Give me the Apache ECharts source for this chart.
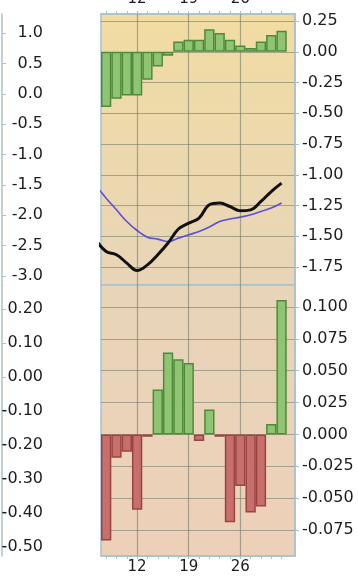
<!DOCTYPE html>
<html><head><meta charset="utf-8">
<script src="https://cdn.jsdelivr.net/npm/echarts@6/dist/echarts.min.js"></script>
<style>html,body{margin:0;padding:0;background:#fff}#c{width:358px;height:583px}</style>
</head><body><div id="c"></div>
<script>
// trading days (first one lies just left of the visible range)
const days = ['6','7','8','9','12','13','14','15','16','19','20','21','22','23','26','27','28','29','30'];
const dayLabels = ['12','19','26'];
// upper panel
const histValues = [null,-0.45,-0.382,-0.355,-0.355,-0.228,-0.119,-0.033,0.084,0.098,0.098,0.184,0.152,0.098,0.051,0.030,0.084,0.136,0.171];
const macdValues = [-1.53,-1.623,-1.65,-1.718,-1.778,-1.732,-1.65,-1.555,-1.441,-1.393,-1.352,-1.244,-1.230,-1.258,-1.293,-1.285,-1.217,-1.136,-1.068];
const signalValues = [-1.09,-1.19,-1.285,-1.38,-1.453,-1.507,-1.523,-1.542,-1.515,-1.488,-1.461,-1.425,-1.38,-1.36,-1.344,-1.325,-1.298,-1.271,-1.23];
// lower panel
const lowerValues = [null,-0.0833,-0.0182,-0.0135,-0.0591,-0.0018,0.0352,0.0643,0.0591,0.056,-0.0052,0.0195,-0.0018,-0.069,-0.0404,-0.0612,-0.0565,0.0083,0.1055];
// tick labels
const topRightTicks = [-1.75,-1.5,-1.25,-1,-0.75,-0.5,-0.25,0,0.25];
const topLeftTicks = [-3,-2.5,-2,-1.5,-1,-0.5,0,0.5,1];
const bottomRightTicks = [-0.075,-0.05,-0.025,0,0.025,0.05,0.075,0.1];
const bottomLeftTicks = [-0.5,-0.4,-0.3,-0.2,-0.1,0,0.1,0.2];

const FONT = 'DejaVu Sans';
const TXT = '#1c1c1c';
const AX = '#a7c2cb';
const GRIDC = 'rgba(115,125,105,0.6)';
const GREEN = '#8fc572', GREEN_B = '#4e8a3a', RED = '#c76f6d', RED_B = '#9a4442';
const dayIdx = days.map((d,i)=>i).filter(i=>i>0);
const labelIdx = dayLabels.map(l=>days.indexOf(l));
const XMIN = 0.5, XMAX = 19.3;

function xVisible(gridIndex, pos){
  return {
    type:'value', gridIndex, position:pos, min:XMIN, max:XMAX,
    axisLine:{show:true, onZero:false, lineStyle:{color:AX, width:1.5}},
    axisTick:{show:true, customValues:dayIdx, length:3, lineStyle:{color:AX, width:1}},
    axisLabel:{show:true, customValues:labelIdx, formatter:v=>days[Math.round(v)],
      color:TXT, fontFamily:FONT, fontSize:15, margin: pos==='top'?7:4},
    splitLine:{show:false}
  };
}
function yRight(gridIndex, min, max, ticks, dec){
  return {
    type:'value', gridIndex, position:'right', min, max,
    axisLine:{show:true, onZero:false, lineStyle:{color:AX, width:1.5}},
    axisTick:{show:true, customValues:ticks, length:4, lineStyle:{color:AX}},
    axisLabel:{customValues:ticks, formatter:v=>v.toFixed(dec), color:TXT, fontFamily:FONT, fontSize:16, margin:7},
    splitLine:{show:true, lineStyle:{color:GRIDC, width:1.2}}
  };
}
function yLeft(gridIndex, min, max, ticks, dec){
  return {
    type:'value', gridIndex, position:'left', offset:99, min, max,
    axisLine:{show:true, onZero:false, lineStyle:{color:AX, width:1.5}},
    axisTick:{show:true, inside:true, customValues:ticks, length:4, lineStyle:{color:AX}},
    axisLabel:{inside:true, align:'right', customValues:ticks, formatter:v=>v.toFixed(dec), color:TXT, fontFamily:FONT, fontSize:16, margin:41},
    splitLine:{show:false}
  };
}
// vertical grid lines on the labelled days
const dayGridLines = {
  silent:true, symbol:'none', z:1, label:{show:false},
  lineStyle:{color:GRIDC, type:'solid', width:1.2},
  emphasis:{disabled:true},
  data:labelIdx.map(i=>({xAxis:i}))
};

const chart = echarts.init(document.getElementById('c'), null, {renderer:'canvas'});
chart.setOption({
  animation:false,
  backgroundColor:'#ffffff',
  grid:[
    {left:101, right:63, top:14, height:271, show:true, borderColor:AX, borderWidth:1.5, outerBoundsMode:'none', containLabel:false,
     backgroundColor:new echarts.graphic.LinearGradient(0,0,0,1,[{offset:0,color:'#f1dca2'},{offset:1,color:'#e8d5b8'}])},
    {left:101, right:63, top:285, height:271, show:true, borderColor:AX, borderWidth:1.5, outerBoundsMode:'none', containLabel:false,
     backgroundColor:new echarts.graphic.LinearGradient(0,0,0,1,[{offset:0,color:'#e8d5b8'},{offset:1,color:'#edd0b8'}])}
  ],
  xAxis:[ xVisible(0,'top'), xVisible(1,'bottom') ],
  yAxis:[
    yRight(0, -1.896, 0.307, topRightTicks, 2),
    yLeft(0, -3.148, 1.313, topLeftTicks, 1),
    yRight(1, -0.0954, 0.1173, bottomRightTicks, 3),
    yLeft(1, -0.5265, 0.2706, bottomLeftTicks, 2)
  ],
  series:[
    {type:'bar', xAxisIndex:0, yAxisIndex:0, barCategoryGap:'0%', z:2,
     data:days.map((d,i)=>[i, histValues[i]]),
     itemStyle:{color:GREEN, borderColor:GREEN_B, borderWidth:1.5},
     markLine:dayGridLines},
    {type:'line', xAxisIndex:0, yAxisIndex:0, showSymbol:false, smooth:0.4, z:3,
     data:days.map((d,i)=>[i, signalValues[i]]),
     lineStyle:{color:'#5a4fd6', width:1.6}},
    {type:'line', xAxisIndex:0, yAxisIndex:0, showSymbol:false, smooth:0.4, z:4,
     data:days.map((d,i)=>[i, macdValues[i]]),
     lineStyle:{color:'#111111', width:3}},
    {type:'bar', xAxisIndex:1, yAxisIndex:2, barCategoryGap:'0%', z:2,
     data:days.map((d,i)=>{
       const v = lowerValues[i];
       const up = v !== null && v >= 0;
       return {value:[i, v], itemStyle:{color:up?GREEN:RED, borderColor:up?GREEN_B:RED_B, borderWidth:1.5}};
     }),
     markLine:dayGridLines}
  ]
});
</script></body></html>
